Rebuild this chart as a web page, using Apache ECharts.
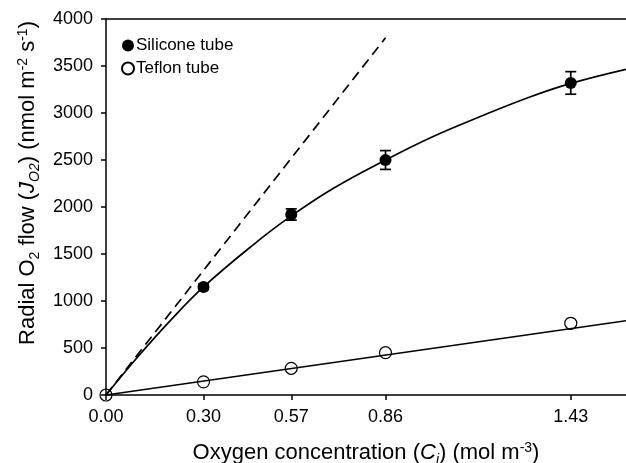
<!DOCTYPE html>
<html>
<head>
<meta charset="utf-8">
<script src="https://cdn.jsdelivr.net/npm/echarts@6/dist/echarts.min.js"></script>
<style>
  html, body { margin: 0; padding: 0; background: #fff; }
  #chart { width: 626px; height: 463px; }
</style>
</head>
<body>
<div id="chart"></div>
<script>
// Measured radial O2 flow for the two tube materials
const concX = [0.30, 0.57, 0.86, 1.43];
const siliconeY = [1150, 1920, 2500, 3320];
const siliconeErr = [30, 60, 100, 120];
const teflonX = [0, 0.30, 0.57, 0.86, 1.43];
const teflonY = [0, 140, 284, 450, 763];

// Fitted curve for the silicone tube
const fitX = [0, 0.1, 0.2, 0.3, 0.45, 0.57, 0.7, 0.86, 1.0, 1.15, 1.3, 1.43, 1.6];
const siliconeFit = [0, 415, 800, 1150, 1590, 1905, 2200, 2500, 2740, 2960, 3165, 3315, 3465];

// Linear fit for the Teflon tube
const teflonFitX = [0, 1.6];
const teflonFit = [0, 790];

// Initial-slope reference line
const slopeX = [0, 0.86];
const slopeY = [0, 3800];

// Axis ticks
const xTicks = [0, 0.30, 0.57, 0.86, 1.43];
const yTicks = [0, 500, 1000, 1500, 2000, 2500, 3000, 3500, 4000];

const zip = (xs, ys) => xs.map((x, i) => [x, ys[i]]);
const font = 'Liberation Sans, Arial, sans-serif';

const titleRich = {
  t: { fontFamily: font, fontSize: 22, color: '#000' },
  i: { fontFamily: font, fontSize: 22, fontStyle: 'italic', color: '#000' },
  sub: { fontFamily: font, fontSize: 14, color: '#000', verticalAlign: 'bottom', padding: [0, 0, -3, 0] },
  subi: { fontFamily: font, fontSize: 14, fontStyle: 'italic', color: '#000', verticalAlign: 'bottom', padding: [0, 0, -3, 0] },
  sup: { fontFamily: font, fontSize: 14, color: '#000', verticalAlign: 'bottom', padding: [0, 0, 9, 0] }
};

const chart = echarts.init(document.getElementById('chart'));
chart.setOption({
  animation: false,
  backgroundColor: '#fff',
  textStyle: { fontFamily: font, color: '#000' },
  grid: { left: 106, right: 0, top: 19, bottom: 68, outerBoundsMode: 'none', containLabel: false },
  legend: {
    data: ['Silicone tube', 'Teflon tube'],
    orient: 'vertical',
    left: 116,
    top: 32,
    itemWidth: 12,
    itemHeight: 12,
    itemGap: 6,
    textStyle: { fontFamily: font, fontSize: 17, lineHeight: 17, color: '#000', padding: [0, 0, 0, -3] }
  },
  graphic: [{
    type: 'text',
    x: 28,
    y: 183,
    rotation: Math.PI / 2,
    style: {
      text: '{t|Radial O}{sub|2}{t| flow (}{i|J}{subi|O2}{t|) (nmol m}{sup|-2}{t| s}{sup|-1}{t|)}',
      rich: titleRich,
      align: 'center',
      verticalAlign: 'middle'
    }
  }],
  xAxis: [{
    type: 'value',
    min: 0,
    max: 1.6,
    axisLine: { lineStyle: { color: '#000', width: 1.5 } },
    axisTick: { show: true, length: 5, customValues: xTicks, lineStyle: { color: '#000', width: 1.5 } },
    axisLabel: {
      customValues: xTicks,
      formatter: v => v.toFixed(2),
      fontFamily: font, fontSize: 18, color: '#000', margin: 13
    },
    splitLine: { show: false },
    name: '{t|Oxygen concentration (}{i|C}{subi|i}{t|) (mol m}{sup|-3}{t|)}',
    nameLocation: 'middle',
    nameGap: 46,
    nameTextStyle: { rich: titleRich }
  }, {
    type: 'value',
    position: 'top',
    min: 0,
    max: 1.6,
    axisLine: { show: true, onZero: false, lineStyle: { color: '#000', width: 1.5 } },
    axisTick: { show: false },
    axisLabel: { show: false },
    splitLine: { show: false }
  }],
  yAxis: {
    type: 'value',
    min: 0,
    max: 4000,
    interval: 500,
    axisLine: { show: true, lineStyle: { color: '#000', width: 1.5 } },
    axisTick: { show: true, length: 5, lineStyle: { color: '#000', width: 1.5 } },
    axisLabel: {
      customValues: yTicks,
      formatter: v => String(v),
      fontFamily: font, fontSize: 18, color: '#000', margin: 13
    },
    splitLine: { show: false }
  },
  series: [
    {
      type: 'line',
      data: zip(slopeX, slopeY),
      symbol: 'none',
      lineStyle: { color: '#000', width: 1.7, type: [10, 6] },
      z: 1
    },
    {
      type: 'line',
      data: zip(fitX, siliconeFit),
      symbol: 'none',
      smooth: 0.4,
      lineStyle: { color: '#000', width: 1.7 },
      z: 1
    },
    {
      type: 'line',
      data: zip(teflonFitX, teflonFit),
      symbol: 'none',
      lineStyle: { color: '#000', width: 1.7 },
      z: 1
    },
    {
      type: 'custom',
      data: concX.map((x, i) => [x, siliconeY[i], siliconeErr[i]]),
      renderItem: function (params, api) {
        const x = api.value(0), y = api.value(1), e = api.value(2);
        const top = api.coord([x, y + e]);
        const bot = api.coord([x, y - e]);
        const hw = 5.5;
        const style = { stroke: '#000', lineWidth: 1.7 };
        return {
          type: 'group',
          children: [
            { type: 'line', shape: { x1: top[0], y1: top[1], x2: bot[0], y2: bot[1] }, style },
            { type: 'line', shape: { x1: top[0] - hw, y1: top[1], x2: top[0] + hw, y2: top[1] }, style },
            { type: 'line', shape: { x1: bot[0] - hw, y1: bot[1], x2: bot[0] + hw, y2: bot[1] }, style }
          ]
        };
      },
      z: 2
    },
    {
      name: 'Silicone tube',
      type: 'scatter',
      data: zip(concX, siliconeY),
      symbol: 'circle',
      symbolSize: 12,
      itemStyle: { color: '#000', borderColor: '#000', borderWidth: 0, opacity: 1 },
      z: 3
    },
    {
      name: 'Teflon tube',
      type: 'scatter',
      data: zip(teflonX, teflonY),
      symbol: 'circle',
      symbolSize: 12,
      itemStyle: { color: 'rgba(255,255,255,0)', borderColor: '#000', borderWidth: 1.2, opacity: 1 },
      z: 3
    }
  ]
});
</script>
</body>
</html>
